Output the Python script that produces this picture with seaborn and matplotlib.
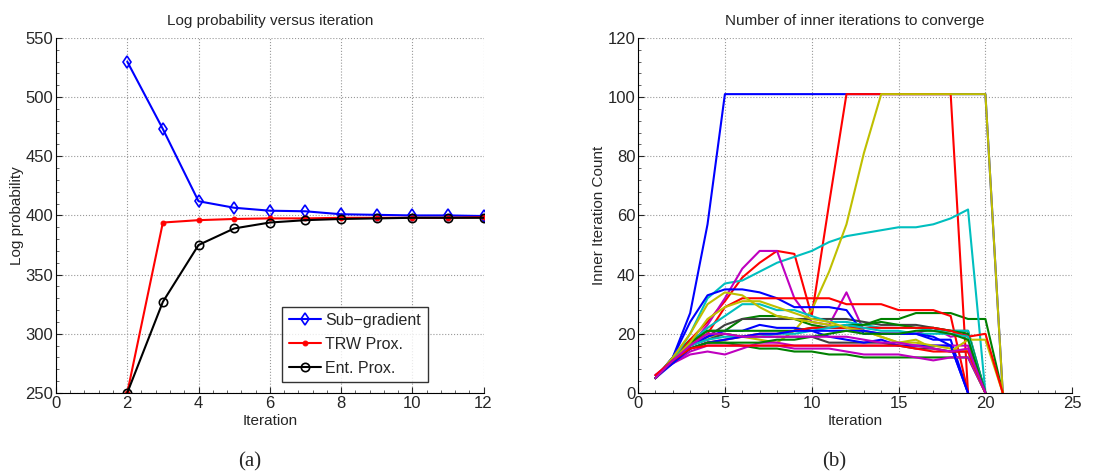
import numpy as np
import pandas as pd
import matplotlib
matplotlib.use('Agg')
import matplotlib.pyplot as plt
import seaborn as sns
from matplotlib.ticker import AutoMinorLocator

# --- (a) log probability vs outer iteration
iters_a = [2, 3, 4, 5, 6, 7, 8, 9, 10, 11, 12]
subgrad = [530, 473, 412, 406.5, 404, 403.5, 401, 400.5, 400, 400, 399.5]
trw_prox = [250, 394, 396, 397, 397.5, 397.5, 398, 398, 398, 398, 398.5]
ent_prox = [250, 327, 375, 389, 394, 396, 397, 397.5, 398, 398, 398]

# --- (b) inner iteration count for each run (x starts at 1)
matlab_b = (0, 0, 1)
matlab_g = (0, 0.5, 0)
matlab_r = (1, 0, 0)
matlab_c = (0, 0.75, 0.75)
matlab_m = (0.75, 0, 0.75)
matlab_y = (0.75, 0.75, 0)
matlab_k = (0.25, 0.25, 0.25)

runs = [
    [5, 12, 27, 57, 101, 101, 101, 101, 101, 101, 101, 101, 101, 101, 101, 101, 101, 101, 101, 101, 0],
    [5, 12, 18, 21, 21, 25, 26, 26, 25, 23, 22, 22, 23, 25, 25, 27, 27, 27, 25, 25, 0],
    [5, 11, 18, 24, 31, 39, 44, 48, 47, 26, 64, 101, 101, 101, 101, 101, 101, 101, 0],
    [5, 11, 20, 32, 37, 38, 41, 44, 46, 48, 51, 53, 54, 55, 56, 56, 57, 59, 62, 0],
    [6, 11, 16, 23, 32, 42, 48, 48, 32, 24, 23, 34, 21, 20, 20, 20, 22, 19, 20, 0],
    [5, 11, 16, 19, 20, 19, 18, 17, 21, 28, 41, 57, 81, 101, 101, 101, 101, 101, 101, 101, 0],
    [5, 11, 16, 19, 23, 25, 25, 25, 25, 25, 25, 25, 24, 23, 23, 23, 22, 21, 21, 0],
    [5, 12, 24, 33, 35, 35, 34, 32, 29, 29, 29, 28, 20, 20, 20, 20, 18, 18, 0],
    [5, 11, 15, 17, 17, 16, 15, 15, 14, 14, 13, 13, 12, 12, 12, 12, 12, 12, 12, 0],
    [5, 11, 17, 20, 29, 32, 32, 32, 32, 32, 32, 30, 30, 30, 28, 28, 28, 26, 0],
    [5, 11, 17, 22, 26, 30, 30, 28, 28, 26, 24, 24, 23, 22, 22, 22, 21, 21, 21, 0],
    [6, 10, 13, 14, 13, 15, 17, 17, 16, 16, 16, 16, 16, 16, 16, 16, 16, 16, 16, 0],
    [5, 12, 20, 30, 34, 33, 29, 26, 25, 24, 23, 22, 21, 19, 17, 18, 15, 14, 18, 18, 0],
    [5, 11, 16, 18, 20, 19, 19, 19, 19, 19, 17, 17, 17, 17, 16, 15, 15, 14, 14, 0],
    [5, 11, 16, 19, 21, 21, 23, 22, 22, 21, 19, 18, 17, 18, 16, 16, 16, 16, 0],
    [5, 11, 17, 21, 21, 21, 21, 21, 21, 22, 22, 23, 23, 24, 23, 22, 22, 21, 20, 0],
    [5, 11, 15, 17, 18, 19, 20, 20, 21, 22, 22, 22, 22, 22, 22, 22, 22, 21, 19, 20, 0],
    [5, 11, 16, 18, 19, 19, 19, 20, 20, 21, 22, 23, 22, 21, 21, 20, 20, 20, 19, 0],
    [6, 10, 14, 16, 16, 16, 16, 16, 15, 15, 15, 14, 13, 13, 13, 12, 11, 12, 12, 0],
    [5, 11, 17, 25, 29, 31, 31, 29, 27, 25, 24, 22, 21, 19, 17, 17, 16, 15, 14, 0],
    [5, 10, 15, 17, 18, 19, 20, 20, 21, 21, 21, 21, 21, 20, 20, 20, 19, 16, 0],
    [5, 11, 15, 17, 17, 17, 17, 18, 18, 19, 20, 21, 20, 20, 20, 21, 21, 20, 18, 0],
    [6, 11, 15, 16, 16, 16, 16, 16, 16, 16, 16, 16, 16, 16, 16, 15, 14, 14, 14, 0],
    [5, 11, 16, 20, 20, 19, 19, 19, 19, 19, 19, 19, 18, 17, 17, 16, 15, 14, 15, 0],
]
run_colors = [matlab_b, matlab_g, matlab_r, matlab_c, matlab_m, matlab_y, matlab_k,
              matlab_b, matlab_g, matlab_r, matlab_c, matlab_m, matlab_y, matlab_k,
              matlab_b, matlab_g, matlab_r, matlab_c, matlab_m, matlab_y,
              matlab_b, matlab_g, matlab_r, matlab_m]

sns.set_style('white')
plt.rcParams['font.family'] = ['Liberation Sans', 'DejaVu Sans']
plt.rcParams['font.size'] = 11

fig = plt.figure(figsize=(11.02, 4.74), dpi=100)
ax1 = fig.add_axes([0.0508, 0.171, 0.388, 0.749])
ax2 = fig.add_axes([0.579, 0.171, 0.394, 0.749])

# left panel
sns.lineplot(x=iters_a, y=subgrad, ax=ax1, color='blue', marker='d', markersize=6,
             markerfacecolor='none', markeredgecolor='blue', markeredgewidth=1.2,
             linewidth=1.5, label='Sub\u2212gradient')
sns.lineplot(x=iters_a, y=trw_prox, ax=ax1, color='red', marker='o', markersize=3.5,
             markeredgecolor='red', linewidth=1.5, label='TRW Prox.')
sns.lineplot(x=iters_a, y=ent_prox, ax=ax1, color='black', marker='o', markersize=6,
             markerfacecolor='none', markeredgecolor='black', markeredgewidth=1.2,
             linewidth=1.5, label='Ent. Prox.')
ax1.set_xlim(0, 12)
ax1.set_ylim(250, 550)
ax1.set_xticks(range(0, 13, 2))
ax1.set_yticks(range(250, 551, 50))
ax1.set_title('Log probability versus iteration', fontsize=11, pad=9)
ax1.set_xlabel('Iteration', fontsize=11, labelpad=2)
ax1.set_ylabel('Log probability', fontsize=11, labelpad=1)
leg = ax1.legend(loc='lower right', bbox_to_anchor=(0.869, 0.031), fontsize=11.5,
                 frameon=True, fancybox=False, handlelength=2.0, borderpad=0.4,
                 labelspacing=0.55, handletextpad=0.3, borderaxespad=0)
leg.get_frame().set_edgecolor('black')
leg.get_frame().set_linewidth(1.0)

# right panel
rows = []
for i, r in enumerate(runs):
    for j, v in enumerate(r):
        rows.append({'run': i, 'iteration': j + 1, 'count': v})
df_b = pd.DataFrame(rows)
sns.lineplot(data=df_b, x='iteration', y='count', hue='run', palette=run_colors,
             estimator=None, linewidth=1.5, legend=False, ax=ax2)
ax2.set_xlim(0, 25)
ax2.set_ylim(0, 120)
ax2.set_xticks(range(0, 26, 5))
ax2.set_yticks(range(0, 121, 20))
ax2.set_title('Number of inner iterations to converge', fontsize=11, pad=9)
ax2.set_xlabel('Iteration', fontsize=11, labelpad=2)
ax2.set_ylabel('Inner Iteration Count', fontsize=11, labelpad=1)

for ax in (ax1, ax2):
    ax.grid(True, linestyle=':', color='#999999', linewidth=0.8)
    for s in ('top', 'right'):
        ax.spines[s].set_visible(False)
    for s in ('left', 'bottom'):
        ax.spines[s].set_color('black')
        ax.spines[s].set_linewidth(0.8)
    ax.xaxis.set_minor_locator(AutoMinorLocator(5))
    ax.yaxis.set_minor_locator(AutoMinorLocator(5))
    ax.tick_params(which='major', direction='in', length=4, width=0.8, labelsize=12,
                   bottom=True, left=True, pad=2)
    ax.tick_params(which='minor', direction='in', length=2, width=0.5,
                   bottom=True, left=True)

fig.text(0.227, 0.025, '(a)', ha='center', va='center', fontsize=15,
         family=['Liberation Serif', 'DejaVu Serif'])
fig.text(0.757, 0.025, '(b)', ha='center', va='center', fontsize=15,
         family=['Liberation Serif', 'DejaVu Serif'])

fig.savefig('out.png', dpi=100)
